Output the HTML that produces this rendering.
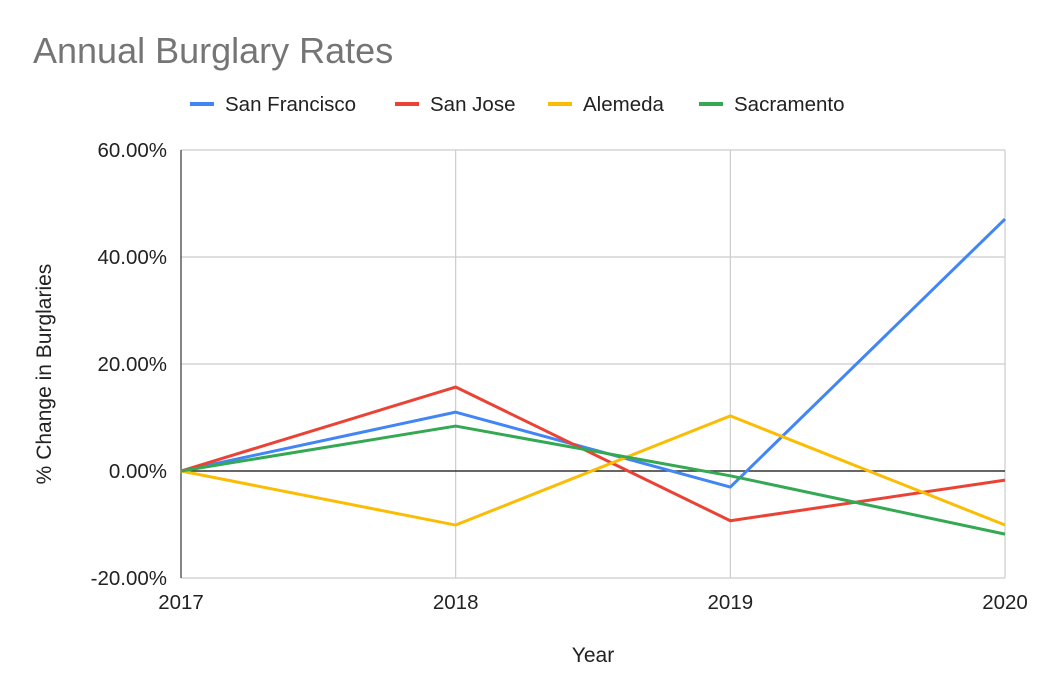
<!DOCTYPE html>
<html><head><meta charset="utf-8"><style>
body{margin:0;background:#fff;font-family:"Liberation Sans",Arial,sans-serif;}
svg{display:block}
</style></head><body>
<svg id="chart" width="1039" height="679" xmlns="http://www.w3.org/2000/svg">
<text x="33" y="63" font-size="36" fill="#757575">Annual Burglary Rates</text>
<g id="legend"></g>
<g id="grid"></g>
<g id="axes"></g>
<g id="series"></g>
<text x="0" y="0" font-size="21" fill="#222" text-anchor="middle" transform="translate(51,374) rotate(-90)">% Change in Burglaries</text>
<text x="593" y="662" font-size="21" fill="#222" text-anchor="middle">Year</text>
</svg>
<script>
const years = ["2017","2018","2019","2020"];
const seriesNames = ["San Francisco","San Jose","Alemeda","Sacramento"];
const sanFrancisco = [0, 11.0, -3.0, 47.1];
const sanJose = [0, 15.7, -9.3, -1.7];
const alemeda = [0, -10.1, 10.3, -10.1];
const sacramento = [0, 8.4, -0.9, -11.8];
const yTicks = [-20, 0, 20, 40, 60];
const yTickLabels = ["-20.00%","0.00%","20.00%","40.00%","60.00%"];

const NS="http://www.w3.org/2000/svg";
const colors=["#4285f4","#ea4335","#fbbc04","#34a853"];
const X0=181,X1=1005,Y0=578,Y1=150,ymin=-20,ymax=60;
const xs=i=>X0+(X1-X0)*i/(years.length-1);
const ys=v=>Y0-(v-ymin)/(ymax-ymin)*(Y0-Y1);
function mk(tag,attrs,parent){const e=document.createElementNS(NS,tag);for(const k in attrs)e.setAttribute(k,attrs[k]);parent.appendChild(e);return e;}
const grid=document.getElementById('grid'),axes=document.getElementById('axes'),ser=document.getElementById('series'),leg=document.getElementById('legend');
yTicks.forEach((t,i)=>{
  const l=mk('line',{x1:X0,x2:X1,y1:ys(t),y2:ys(t),stroke:t===0?'#333':'#ccc','stroke-width':t===0?1.5:1.2},t===0?axes:grid);
  
  
  const tx=mk('text',{x:X0-14,y:ys(t)+7,'font-size':20.5,fill:'#222','text-anchor':'end'},axes);
  tx.textContent=yTickLabels[i];
  
  
});
years.forEach((y,i)=>{
  const l=mk('line',{x1:xs(i),x2:xs(i),y1:Y1,y2:Y0,stroke:i===0?'#333':'#ccc','stroke-width':1.2},i===0?axes:grid);
  
  
  const tx=mk('text',{x:xs(i),y:609,'font-size':20.5,fill:'#222','text-anchor':'middle'},axes);
  tx.textContent=y;
  
  
});
const all=[sanFrancisco,sanJose,alemeda,sacramento];
all.forEach((d,s)=>{
  const p=mk('polyline',{points:d.map((v,i)=>xs(i)+','+ys(v)).join(' '),fill:'none',stroke:colors[s],'stroke-width':3,'stroke-linejoin':'round'},ser);
  
  
});
const legX=[190,395,548,699];
seriesNames.forEach((n,s)=>{
  const g=mk('g',{},leg);
  
  
  mk('line',{x1:legX[s],x2:legX[s]+24,y1:104,y2:104,stroke:colors[s],'stroke-width':4},g);
  const t=mk('text',{x:legX[s]+35,y:111,'font-size':20.5,fill:'#222'},g);
  t.textContent=n;
});
</script>
</body></html>
